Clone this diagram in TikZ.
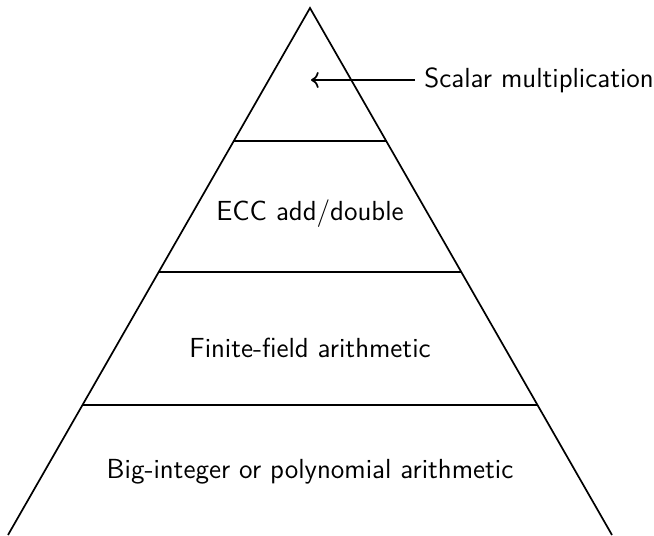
\documentclass[tikz,border=0pt]{standalone}
\usetikzlibrary{arrows.meta}
\begin{document}
\begin{tikzpicture}[x=0.5pt,y=-0.5pt,
  edge/.style={line width=0.85pt, line join=miter},
  lbl/.style={font=\sffamily\fontsize{13.8}{16}\selectfont, inner sep=0pt}]
\useasboundingbox (0,0) rectangle (654,536);
\coordinate (apex) at (310,8);
\coordinate (bl) at (8,535);
\coordinate (br) at (612,535);
\draw[edge] (bl) -- (apex) -- (br);
\coordinate (l1a) at (233.6,141); \coordinate (l1b) at (386.4,141);
\coordinate (l2a) at (158.7,272); \coordinate (l2b) at (461.3,272);
\coordinate (l3a) at (82.5,405); \coordinate (l3b) at (537.5,405);
\draw[edge] (l1a) -- (l1b);
\draw[edge] (l2a) -- (l2b);
\draw[edge] (l3a) -- (l3b);
\node[lbl] (ecc) at (310,214) {ECC add/double};
\node[lbl] (ff) at (310,348) {Finite-field arithmetic};
\node[lbl] (bi) at (310,472) {Big-integer or polynomial arithmetic};
\node[lbl, anchor=west] (sm) at (424,80) {Scalar multiplication};
\coordinate (tip) at (311,80);
\draw[edge,-{To[scale=1.1]}] (sm.west) ++(-9,0) -- (tip);
\end{tikzpicture}
\end{document}
